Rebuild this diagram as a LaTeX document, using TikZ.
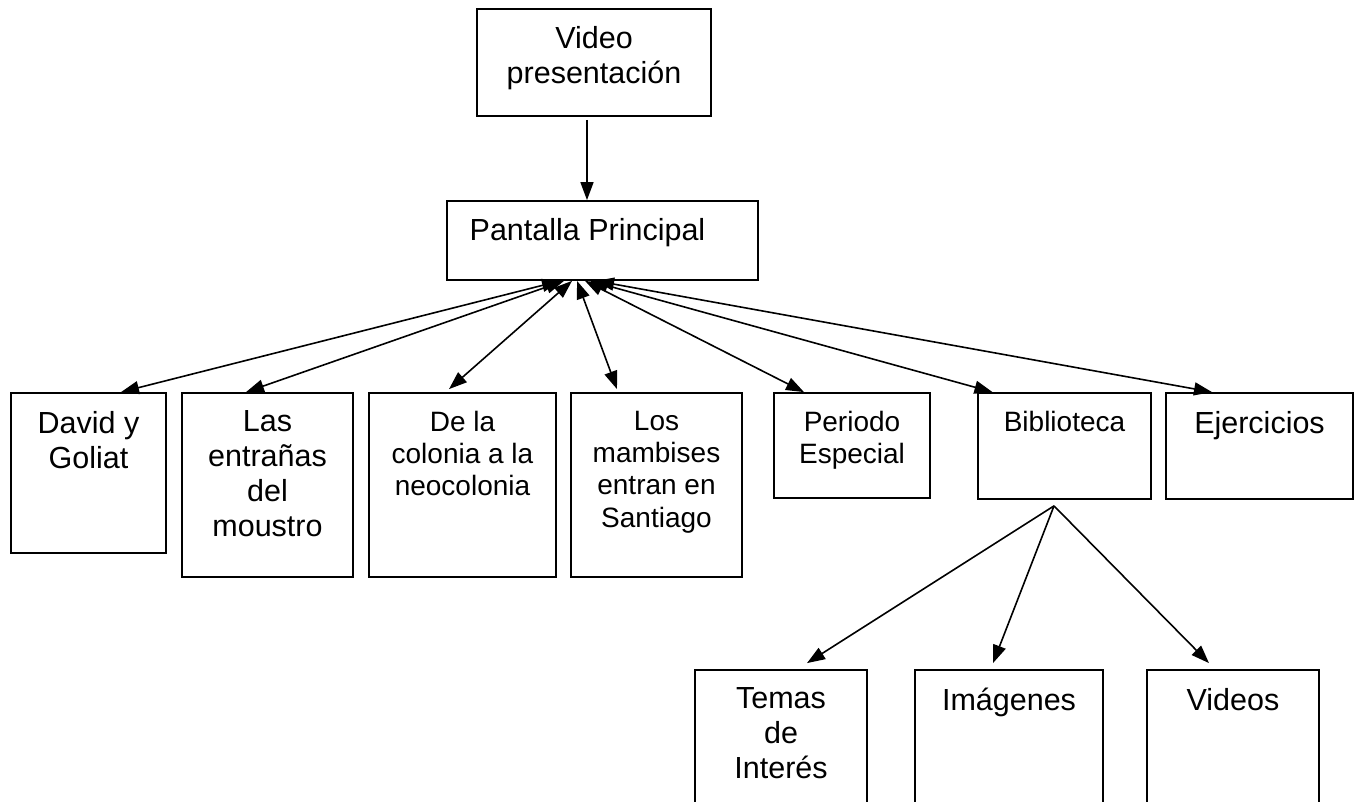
\documentclass[tikz,border=0pt]{standalone}
\usepackage{fontspec}
\setmainfont{Liberation Sans}
\usetikzlibrary{arrows.meta}

\begin{document}
\begin{tikzpicture}[x=1pt,y=-1pt,>={Triangle[length=18pt,width=13pt]},line width=1.6pt,
  box/.style={draw,line width=1.8pt,inner sep=0pt},
  txt/.style={anchor=north,align=center,inner sep=0pt,font=\fontsize{30.5}{35}\selectfont},
  txts/.style={txt,font=\fontsize{28}{32.3}\selectfont}]
  \clip (0,0) rectangle (1355,802);

  % Top
  \node[box,minimum width=234pt,minimum height=107pt] (video) at (594,62.5) {};
  \node[txt] (video-t) at ([yshift=-18pt]video.north) {Video\\presentación};
  \node[box,minimum width=311pt,minimum height=79pt] (pantalla) at (602.5,240.5) {};
  \node[txt] (pantalla-t) at ([xshift=-15pt,yshift=-18pt]pantalla.north) {Pantalla Principal};
  \draw[->,shorten <=3pt] ([xshift=-7pt]video.south) -- ([xshift=-15.5pt]pantalla.north);

  % Sections
  \node[box,minimum width=155pt,minimum height=160pt] (david) at (88.5,473) {};
  \node[txt] (david-t) at ([yshift=-18pt]david.north) {David y\\Goliat};
  \node[box,minimum width=171pt,minimum height=184pt] (entranas) at (267.5,485) {};
  \node[txt] (entranas-t) at ([yshift=-18pt]entranas.north) {Las\\entrañas\\del\\moustro};
  \node[box,minimum width=187pt,minimum height=184pt] (colonia) at (462.5,485) {};
  \node[txts] (colonia-t) at ([yshift=-18pt]colonia.north) {De la\\colonia a la\\neocolonia};
  \node[box,minimum width=171pt,minimum height=184pt] (mambises) at (656.5,485) {};
  \node[txts] (mambises-t) at ([yshift=-18pt]mambises.north) {Los\\mambises\\entran en\\Santiago};
  \node[box,minimum width=156pt,minimum height=105pt] (periodo) at (852,445.5) {};
  \node[txts] (periodo-t) at ([yshift=-18pt]periodo.north) {Periodo\\Especial};
  \node[box,minimum width=173pt,minimum height=106pt] (biblio) at (1064.5,446) {};
  \node[txts] (biblio-t) at ([yshift=-18pt]biblio.north) {Biblioteca};
  \node[box,minimum width=187pt,minimum height=106pt] (ejercicios) at (1259.5,446) {};
  \node[txt] (ejercicios-t) at ([yshift=-18pt]ejercicios.north) {Ejercicios};

  \draw[<->] ([xshift=-42.5pt]pantalla.south) -- ([xshift=32.5pt]david.north);
  \draw[<->] ([xshift=-38.5pt]pantalla.south) -- ([xshift=-21.5pt]entranas.north);
  \draw[<->] ([xshift=-30.5pt]pantalla.south) -- ([xshift=-13.5pt,yshift=3pt]colonia.north);
  \draw[<->] ([xshift=-25.5pt]pantalla.south) -- ([xshift=-39.5pt,yshift=3pt]mambises.north);
  \draw[<->] ([xshift=-17.5pt]pantalla.south) -- ([xshift=-48pt]periodo.north);
  \draw[<->] ([xshift=-12.5pt]pantalla.south) -- ([xshift=-72pt]biblio.north);
  \draw[<->] ([xshift=-6.5pt]pantalla.south) -- ([xshift=-47.5pt]ejercicios.north);

  % Biblioteca
  \node[box,minimum width=172pt,minimum height=160pt] (temas) at (781,750) {};
  \node[txt] (temas-t) at ([yshift=-18pt]temas.north) {Temas\\de\\Interés};
  \node[box,minimum width=188pt,minimum height=160pt] (imagenes) at (1009,750) {};
  \node[txt] (imagenes-t) at ([yshift=-18pt]imagenes.north) {Imágenes};
  \node[box,minimum width=172pt,minimum height=160pt] (videos) at (1233,750) {};
  \node[txt] (videos-t) at ([yshift=-18pt]videos.north) {Videos};

  \coordinate (fork) at ([xshift=-10.5pt,yshift=-6pt]biblio.south);
  \draw[->] (fork) -- ([xshift=26pt,yshift=6pt]temas.north);
  \draw[->] (fork) -- ([xshift=-16pt,yshift=6pt]imagenes.north);
  \draw[->] (fork) -- ([xshift=-24pt,yshift=6pt]videos.north);
\end{tikzpicture}
\end{document}
